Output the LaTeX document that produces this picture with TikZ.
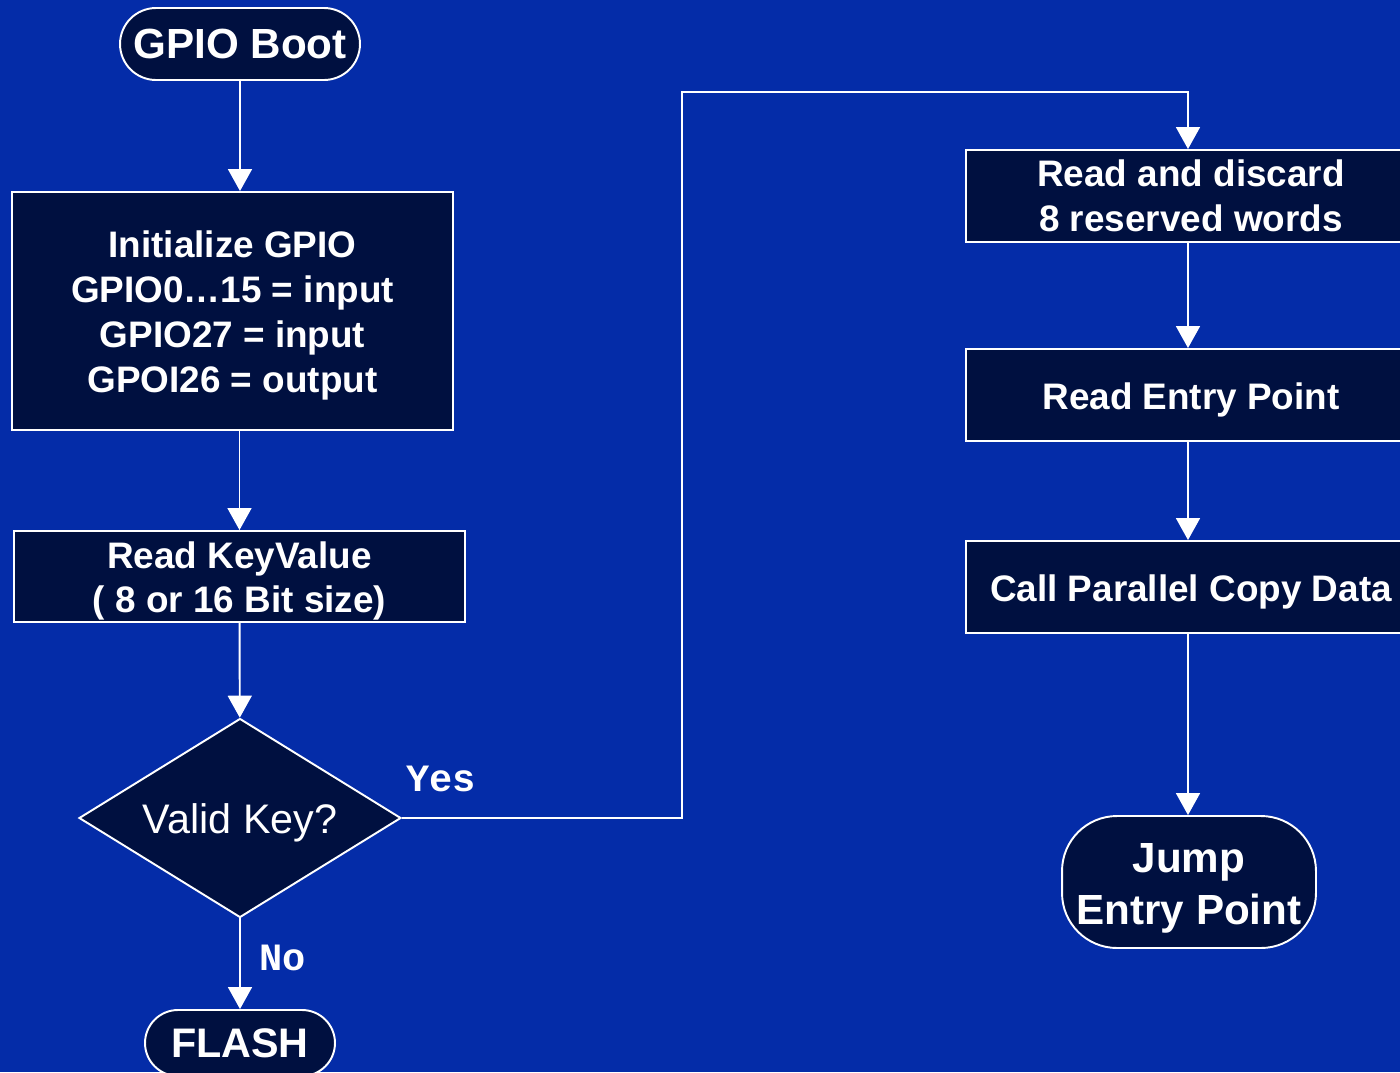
\documentclass[tikz,border=0pt]{standalone}
\usepackage{fontspec}
\setmainfont{Liberation Sans}
\newfontfamily\answerfont{Liberation Mono}
\usetikzlibrary{arrows.meta,shapes.geometric}
\definecolor{slideblue}{RGB}{4,44,168}
\definecolor{boxnavy}{RGB}{0,16,64}
% taller first line, so the text sits a little lower in its box
\newcommand{\toppad}{\rule{0pt}{0.97em}}

\begin{document}
\begin{tikzpicture}[x=0.02cm,y=-0.02cm,
    shape base/.style={draw=white,line width=1.1pt,fill=boxnavy,text=white,align=center,inner sep=0pt},
    proc/.style={shape base,font=\bfseries\fontsize{21}{25.5}\selectfont},
    term/.style={shape base,font=\bfseries\fontsize{24}{29.5}\selectfont},
    decide/.style={diamond,aspect=1.6,shape base,font=\fontsize{23.5}{28}\selectfont},
    answer/.style={text=white,font=\answerfont\bfseries\fontsize{22}{26}\selectfont},
    flow/.style={draw=white,line width=1.1pt,-{Triangle[width=13.6pt,length=12.5pt]}}]
  % slide background
  \fill[slideblue] (0,0) rectangle (1400,1072);
  \useasboundingbox (0,0) rectangle (1400,1072);

  % left column
  \node[term,minimum width=4.8cm,minimum height=1.44cm,rounded corners=0.72cm] (boot) at (240,44) {GPIO Boot};
  \node[proc,minimum width=8.82cm,minimum height=4.76cm] (init) at (232.5,311)
       {\toppad Initialize GPIO\\GPIO0…15 = input\\GPIO27 = input\\GPOI26 = output};
  \node[proc,minimum width=9.02cm,minimum height=1.82cm] (readkey) at (239.5,576.5)
       {\toppad Read KeyValue\\( 8 or 16 Bit size)};
  \node[decide,minimum width=6.44cm,minimum height=3.98cm] (valid) at (240,818) {\toppad Valid Key?};
  \node[term,font=\bfseries\fontsize{23.5}{28}\selectfont,minimum width=3.8cm,minimum height=1.32cm,
        rounded corners=0.66cm] (flash) at (240,1043) {FLASH};
  \node[answer] (yes) at (441,779) {Yes};
  \node[answer] (no) at (283,958) {No};

  % right column
  \node[proc,minimum width=9cm,minimum height=1.84cm] (discard) at (1191,196)
       {Read and discard\\8 reserved words};
  \node[proc,minimum width=9cm,minimum height=1.84cm] (entry) at (1191,395) {\toppad Read Entry Point};
  \node[proc,minimum width=9cm,minimum height=1.84cm] (callcopy) at (1191,587) {\toppad Call Parallel Copy Data};
  \node[term,minimum width=5.08cm,minimum height=2.64cm,rounded corners=1.1cm]
       (jump) at (1189,882) {\toppad Jump\\Entry Point};
  \coordinate (bend) at (682,92);
  \coordinate (spine) at (1188,0);

  % connectors
  \draw[flow] (boot) -- (boot |- init.north);
  \draw[flow] (readkey |- init.south) -- (readkey.north);
  \draw[flow] (readkey) -- (valid);
  \draw[flow] (valid) -- (flash);
  \draw[flow] (valid.east) -| (bend) -| (spine |- discard.north);
  \draw[flow] (spine |- discard.south) -- (spine |- entry.north);
  \draw[flow] (spine |- entry.south) -- (spine |- callcopy.north);
  \draw[flow] (spine |- callcopy.south) -- (spine |- jump.north);
\end{tikzpicture}
\end{document}
